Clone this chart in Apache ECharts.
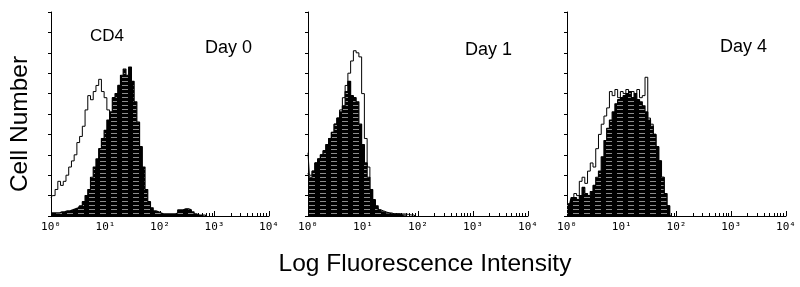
<!DOCTYPE html>
<html>
<head>
<meta charset="utf-8">
<script src="https://cdn.jsdelivr.net/npm/echarts@6/dist/echarts.min.js"></script>
<style>
html,body{margin:0;padding:0;background:#fff;}
#main{width:800px;height:287px;}
</style>
</head>
<body>
<div id="main"></div>
<script>
// bins are 0.05 decade wide, starting at 10^0
var step = 0.05;
var decadeLabels = ['10\u2070', '10\u00b9', '10\u00b2', '10\u00b3', '10\u2074'];
var panelTitles = ['Day 0', 'Day 1', 'Day 4'];

// Day 0
var day0Open = [0.9,1.0,1.3,1.7,1.5,1.7,2.0,2.4,2.7,3.0,3.6,3.9,4.4,5.2,5.9,5.7,6.1,6.4,6.7,6.1,
	5.8,5.2,4.6,4.0,3.4,2.8,2.2,1.6,1.1,0.7,0.4,0.25,0.15,0.1,0.05,0];
var day0Fill = [0.15,0.15,0.15,0.15,0.2,0.2,0.25,0.25,0.3,0.35,0.4,0.5,0.7,1.0,1.3,1.9,2.4,2.8,3.3,3.8,
	4.2,4.7,5.1,5.8,6.0,6.4,6.9,7.2,6.9,7.3,6.6,5.6,4.6,3.4,2.4,1.3,0.7,0.4,0.25,0.2,
	0.15,0.1,0.1,0.1,0.1,0.1,0.15,0.3,0.3,0.35,0.35,0.3,0.2,0.1,0.05,0.05,0.05,0];
// Day 1
var day1Open = [3.1,2.0,2.2,2.6,2.8,3.0,3.2,3.5,3.8,4.1,4.5,4.8,5.2,5.8,6.4,7.0,7.6,8.1,8.0,7.8,
	6.0,3.8,2.4,1.3,0.7,0.4,0.3,0.25,0.2,0.15,0.15,0.1,0.1,0.1,0.1,0.1,0.08,0.05,0.05,0];
var day1Fill = [2.1,1.9,2.2,2.6,2.8,3.0,3.2,3.5,3.8,4.1,4.5,4.8,5.1,5.4,6.1,6.6,5.9,5.8,5.6,4.5,
	3.5,2.6,1.9,1.3,0.8,0.5,0.3,0.2,0.15,0.15,0.1,0.1,0.1,0.1,0.05,0.05,0];
// Day 4
var day4Open = [0.5,0.5,0.8,1.1,1.0,1.7,1.9,1.6,2.2,2.6,2.4,3.3,4.0,4.5,4.9,5.3,6.1,5.9,6.2,5.8,
	6.1,6.0,6.2,6.0,6.1,6.0,6.2,5.8,5.9,6.8,4.8,4.5,4.0,3.4,2.7,1.9,1.1,0.5,0];
var day4Fill = [0.6,0.6,0.9,0.9,0.8,1.0,1.4,1.1,1.0,1.2,1.5,1.9,2.2,2.9,3.7,4.3,4.7,5.1,5.5,5.7,
	5.8,5.9,6.0,6.1,5.8,6.0,5.7,5.6,5.4,5.1,4.7,4.4,4.0,3.4,2.7,1.9,1.1,0.5,0];

var openSets = [day0Open, day1Open, day4Open];
var fillSets = [day0Fill, day1Fill, day4Fill];

function hist(vals){
	var d = [];
	for(var i=0;i<vals.length;i++){
		d.push([Math.pow(10, i*step), vals[i]]);
	}
	return d;
}

// striped black fill like the scanned histogram
var pat = document.createElement('canvas');
pat.width = 11; pat.height = 4;
var pctx = pat.getContext('2d');
pctx.fillStyle = '#000';
pctx.fillRect(0,0,11,4);
pctx.fillStyle = '#8c8c8c';
pctx.fillRect(1,1,6,1);

var grids = [
	{left:51, top:12, width:218, height:204},
	{left:308, top:12, width:220, height:204},
	{left:567, top:12, width:219, height:204}
];

var xAxes = [], yAxes = [], series = [];
for(var p=0;p<3;p++){
	xAxes.push({
		gridIndex:p, type:'log', logBase:10, min:1, max:10000,
		axisLine:{lineStyle:{color:'#000', width:1}},
		axisTick:{inside:true, length:5, lineStyle:{color:'#000'}},
		minorTick:{show:true, splitNumber:9, length:3, lineStyle:{color:'#000'}},
		splitLine:{show:false},
		axisLabel:{
			margin:6, color:'#000', fontFamily:'DejaVu Sans Mono', fontSize:11,
			formatter:function(v){ return decadeLabels[Math.round(Math.log(v)/Math.LN10)]; }
		}
	});
	yAxes.push({
		gridIndex:p, type:'value', min:0, max:10, interval:1,
		axisLine:{show:true, lineStyle:{color:'#000', width:1}},
		axisTick:{show:true, length:3, lineStyle:{color:'#000'}},
		axisLabel:{show:false},
		splitLine:{show:false}
	});
	series.push({
		type:'line', xAxisIndex:p, yAxisIndex:p, step:'middle', symbol:'none',
		data:hist(openSets[p]), z:2,
		lineStyle:{color:'#000', width:1}
	});
	series.push({
		type:'line', xAxisIndex:p, yAxisIndex:p, step:'middle', symbol:'none',
		data:hist(fillSets[p]), z:3,
		lineStyle:{color:'#000', width:1.2},
		areaStyle:{color:{image:pat, repeat:'repeat'}, opacity:1}
	});
}

var graphics = [
	{type:'text', left:90, top:28, style:{text:'CD4', fill:'#000', font:'17px "Liberation Sans", Arial'}},
	{type:'text', left:205, top:39, style:{text:panelTitles[0], fill:'#000', font:'18px "Liberation Sans", Arial'}},
	{type:'text', left:465, top:41, style:{text:panelTitles[1], fill:'#000', font:'18px "Liberation Sans", Arial'}},
	{type:'text', left:720, top:38, style:{text:panelTitles[2], fill:'#000', font:'18px "Liberation Sans", Arial'}},
	{type:'text', x:20, y:124, rotation:Math.PI/2,
		style:{text:'Cell Number', fill:'#000', font:'24.5px "Liberation Sans", Arial', align:'center', verticalAlign:'middle'}},
	{type:'text', x:425, y:264, style:{text:'Log Fluorescence Intensity', fill:'#000', font:'24.5px "Liberation Sans", Arial', align:'center', verticalAlign:'middle'}}
];

var chart = echarts.init(document.getElementById('main'), null, {renderer:'canvas'});
chart.setOption({
	animation:false,
	backgroundColor:'#fff',
	grid:grids,
	xAxis:xAxes,
	yAxis:yAxes,
	series:series,
	graphic:graphics
});
</script>
</body>
</html>
